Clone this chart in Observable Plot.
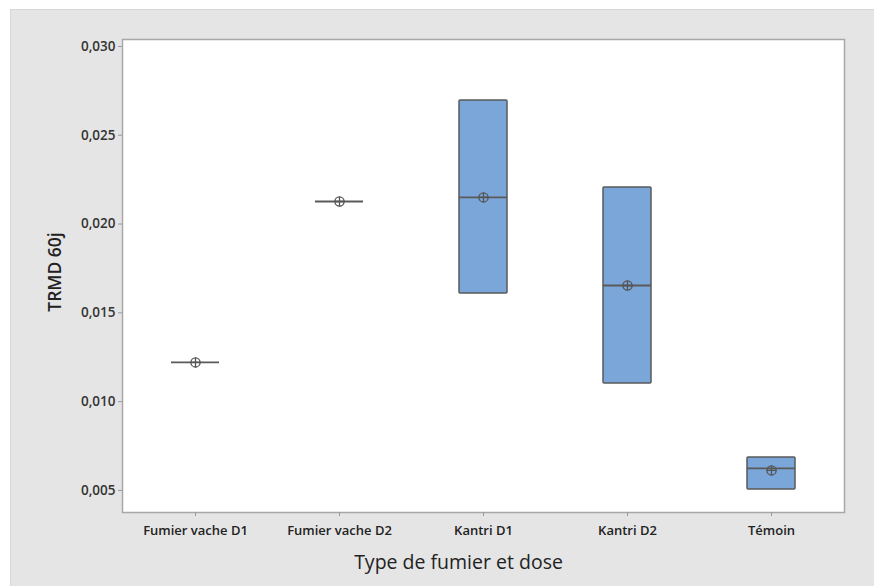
<!DOCTYPE html>
<html>
<head>
<meta charset="utf-8">
<script src="https://cdn.jsdelivr.net/npm/d3@7"></script>
<script src="https://cdn.jsdelivr.net/npm/@observablehq/plot@0.6"></script>
<style>
  html, body { margin: 0; padding: 0; background: #ffffff; }
  #wrap { position: relative; width: 874px; height: 586px; overflow: hidden; }
  #bg { position: absolute; left: 10px; top: 9px; right: 0; bottom: 0; background: #e5e5e5; border-top: 1px solid #d8d8d8; border-left: 1px solid #d8d8d8; }
  #chart { position: absolute; left: 0; top: 0; }
</style>
</head>
<body>
<div id="wrap"><div id="bg"></div><div id="chart"></div></div>
<script>
const categories = ["Fumier vache D1", "Fumier vache D2", "Kantri D1", "Kantri D2", "Témoin"];
const q1 =     [0.01221, 0.02127, 0.01609, 0.01102, 0.00506];
const q3 =     [0.01221, 0.02127, 0.02696, 0.02206, 0.00686];
const median = [0.01221, 0.02127, 0.0215,  0.01654, 0.00624];
const mean =   [0.01221, 0.02127, 0.0215,  0.01654, 0.00613];
const yTicks = [0.005, 0.010, 0.015, 0.020, 0.025, 0.030];
const xTitle = "Type de fumier et dose";
const yTitle = "TRMD 60j";

const rows = categories.map((c, i) => ({cat: c, q1: q1[i], q3: q3[i], median: median[i], mean: mean[i]}));
const boxes = rows.filter(d => d.q3 > d.q1);

const font = "'Open Sans', 'Noto Sans', sans-serif";
const plot = Plot.plot({
  width: 874,
  height: 586,
  marginLeft: 122,
  marginRight: 30,
  marginTop: 39,
  marginBottom: 74,
  style: {background: "transparent", fontFamily: font, color: "#333"},
  x: {type: "band", domain: categories, padding: 0},
  y: {domain: [0.00376, 0.03039]},
  marks: [
    Plot.frame({fill: "white", stroke: "#a8a8a8", strokeWidth: 1.5}),
    Plot.axisY({ticks: yTicks, tickFormat: d => d.toFixed(3).replace(".", ","), tickSize: 4, tickPadding: 3, stroke: "#9a9a9a", fill: "#333", fontSize: 13.5, fontWeight: 600, label: null}),
    Plot.axisX({tickSize: 4, tickPadding: 9, stroke: "#9a9a9a", fill: "#222", fontSize: 13, fontWeight: 600, label: null}),
    Plot.barY(boxes, {x: "cat", y1: "q1", y2: "q3", fill: "#7ba6d9", stroke: "#5a5a5a", strokeWidth: 1.5, insetLeft: 48, insetRight: 48, rx: 1}),
    Plot.tickY(rows, {x: "cat", y: "median", stroke: "#5a5a5a", strokeWidth: 1.8, insetLeft: 48, insetRight: 48}),
    Plot.dot(rows, {x: "cat", y: "mean", r: 4.6, stroke: "#555", strokeWidth: 1.3, fill: "none"}),
    Plot.dot(rows, {x: "cat", y: "mean", r: 3.3, symbol: "plus", stroke: "#555", strokeWidth: 1.3}),
    Plot.text([xTitle], {frameAnchor: "bottom", dy: 56, dx: -25, text: d => d, fontSize: 19.5, fill: "#222", fontWeight: 500}),
    Plot.text([yTitle], {frameAnchor: "left", dx: -67, dy: -4, rotate: -90, textAnchor: "middle", text: d => d, fontSize: 17.5, fill: "#222", fontWeight: 600})
  ]
});
document.getElementById("chart").appendChild(plot);
</script>
</body>
</html>
